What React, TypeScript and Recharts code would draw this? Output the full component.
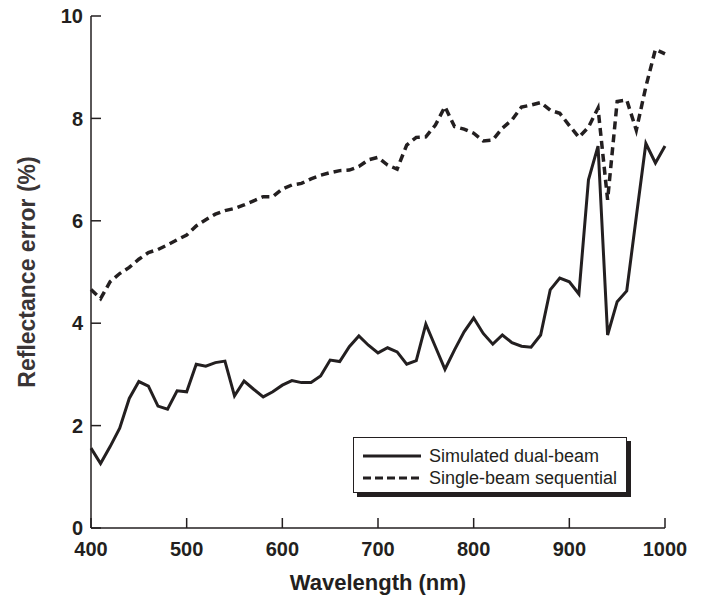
import { LineChart, Line, XAxis, YAxis, Legend, Label } from "recharts";

const INK = "#231f20";
const FONT = '"Liberation Sans", Arial, sans-serif';

const wavelengths = [
  400, 410, 420, 430, 440, 450, 460, 470, 480, 490, 500, 510, 520, 530, 540,
  550, 560, 570, 580, 590, 600, 610, 620, 630, 640, 650, 660, 670, 680, 690,
  700, 710, 720, 730, 740, 750, 760, 770, 780, 790, 800, 810, 820, 830, 840,
  850, 860, 870, 880, 890, 900, 910, 920, 930, 940, 950, 960, 970, 980, 990,
  1000,
];

const dualBeam = [
  1.56, 1.26, 1.59, 1.95, 2.53, 2.86, 2.77, 2.38, 2.32, 2.68, 2.66, 3.2, 3.16,
  3.23, 3.26, 2.58, 2.87, 2.71, 2.56, 2.66, 2.79, 2.88, 2.84, 2.84, 2.97, 3.28,
  3.25, 3.54, 3.75, 3.57, 3.42, 3.52, 3.44, 3.2, 3.27, 3.98, 3.54, 3.1, 3.48,
  3.83, 4.1, 3.8, 3.59, 3.77, 3.62, 3.55, 3.53, 3.77, 4.65, 4.88, 4.81, 4.57,
  6.8, 7.46, 3.77, 4.42, 4.63, 6.08, 7.51, 7.13, 7.46,
];

const singleBeam = [
  4.66, 4.48, 4.81, 4.97, 5.09, 5.25, 5.38, 5.44, 5.53, 5.63, 5.72, 5.9, 6.02,
  6.13, 6.2, 6.24, 6.31, 6.39, 6.47, 6.47, 6.62, 6.7, 6.73, 6.82, 6.89, 6.94,
  6.98, 6.99, 7.06, 7.19, 7.24, 7.09, 7.01, 7.48, 7.63, 7.64, 7.87, 8.23, 7.84,
  7.79, 7.71, 7.56, 7.58, 7.81, 7.97, 8.22, 8.26, 8.31, 8.16, 8.1, 7.86, 7.63,
  7.83, 8.2, 6.41, 8.33, 8.36, 7.77, 8.62, 9.35, 9.26,
];

const xTicks = [400, 500, 600, 700, 800, 900, 1000];
const yTicks = [0, 2, 4, 6, 8, 10];

const seriesNames = ["Simulated dual-beam", "Single-beam sequential"];

const data = wavelengths.map((w, i) => ({
  wl: w,
  dual: dualBeam[i],
  single: singleBeam[i],
}));

const tickStyle = { fontSize: 20, fontWeight: 700, fill: INK, fontFamily: FONT };

function LegendBox() {
  const rows = [
    { name: seriesNames[0], dash: undefined },
    { name: seriesNames[1], dash: "8 4" },
  ];
  return (
    <div
      style={{
        width: 272,
        height: 54,
        border: `1.5px solid ${INK}`,
        boxShadow: `4px 4px 0 ${INK}`,
        background: "#fff",
        fontFamily: FONT,
        fontSize: 18,
        color: INK,
        position: "relative",
      }}
    >
      {rows.map((r, i) => (
        <div
          key={r.name}
          style={{
            position: "absolute",
            left: 9,
            top: 7 + i * 22,
            height: 22,
            display: "flex",
            alignItems: "center",
            whiteSpace: "nowrap",
          }}
        >
          <svg width={58} height={6} style={{ marginRight: 8 }}>
            <line
              x1={0}
              y1={3}
              x2={58}
              y2={3}
              stroke={INK}
              strokeWidth={3}
              strokeDasharray={r.dash}
            />
          </svg>
          <span>{r.name}</span>
        </div>
      ))}
    </div>
  );
}

export default function App() {
  return (
    <div style={{ position: "absolute", left: 0, top: 0, background: "#fff" }}>
      <LineChart
        width={706}
        height={602}
        data={data}
        margin={{ top: 16, right: 41, left: 0, bottom: 0 }}
      >
        <XAxis
          dataKey="wl"
          type="number"
          domain={[400, 1000]}
          ticks={xTicks}
          height={74}
          tickSize={-10}
          tickMargin={24}
          tick={tickStyle}
          axisLine={{ stroke: INK, strokeWidth: 1.5 }}
          tickLine={{ stroke: INK, strokeWidth: 1.5 }}
        >
          <Label
            value="Wavelength (nm)"
            position="insideBottom"
            offset={12}
            style={{ fontSize: 22, fontWeight: 700, fill: INK, fontFamily: FONT }}
          />
        </XAxis>
        <XAxis
          xAxisId="top"
          orientation="top"
          dataKey="wl"
          type="number"
          domain={[400, 1000]}
          ticks={xTicks}
          height={0}
          tickSize={-10}
          tickFormatter={() => ""}
          axisLine={{ stroke: INK, strokeWidth: 1.5 }}
          tickLine={{ stroke: INK, strokeWidth: 1.5 }}
        />
        <YAxis
          domain={[0, 10]}
          ticks={yTicks}
          width={91}
          tickSize={-10}
          tickMargin={18}
          tick={tickStyle}
          axisLine={{ stroke: INK, strokeWidth: 1.5 }}
          tickLine={{ stroke: INK, strokeWidth: 1.5 }}
        >
          <Label
            value="Reflectance error (%)"
            angle={-90}
            position="insideLeft"
            offset={27}
            style={{
              fontSize: 23,
              fontWeight: 700,
              fill: "#3a3536",
              fontFamily: FONT,
              textAnchor: "middle",
            }}
          />
        </YAxis>
        <YAxis
          yAxisId="right"
          orientation="right"
          domain={[0, 10]}
          ticks={yTicks}
          width={0}
          tickSize={-10}
          tickFormatter={() => ""}
          axisLine={{ stroke: INK, strokeWidth: 1.5 }}
          tickLine={{ stroke: INK, strokeWidth: 1.5 }}
        />
        <Line
          dataKey="dual"
          name={seriesNames[0]}
          type="linear"
          stroke={INK}
          strokeWidth={3}
          dot={false}
          isAnimationActive={false}
        />
        <Line
          dataKey="single"
          name={seriesNames[1]}
          type="linear"
          stroke={INK}
          strokeWidth={3.5}
          strokeDasharray="8 5"
          dot={false}
          isAnimationActive={false}
        />
        <Legend
          layout="horizontal"
          verticalAlign="middle"
          align="center"
          content={() => <LegendBox />}
          wrapperStyle={{ left: 353, top: 437, width: "auto" }}
        />
      </LineChart>
    </div>
  );
}
